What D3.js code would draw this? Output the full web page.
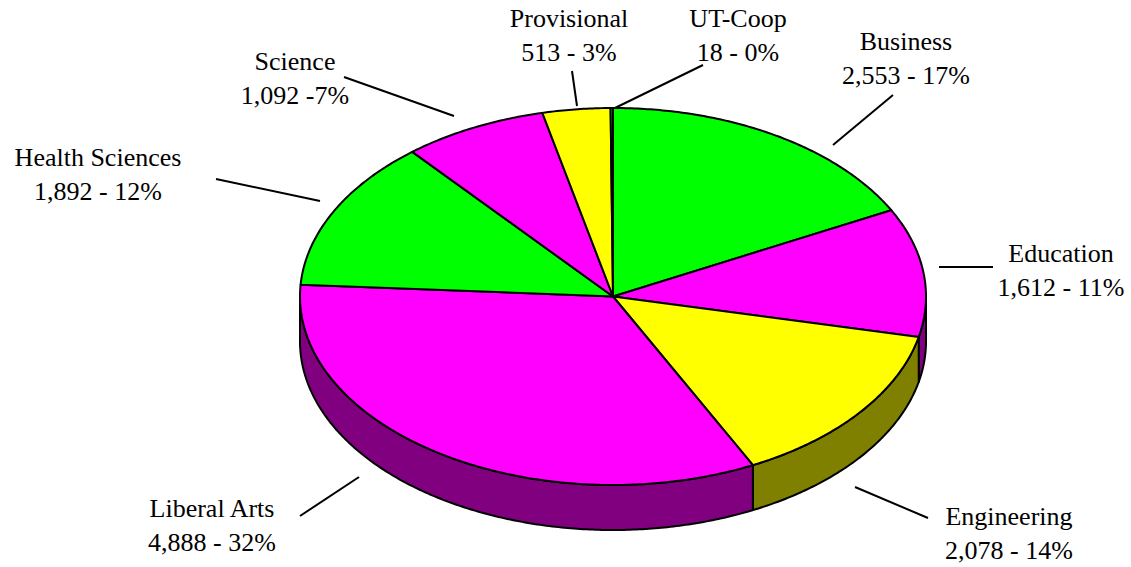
<!DOCTYPE html>
<html lang="en">
<head>
<meta charset="UTF-8">
<title>Enrollment by College</title>
<style>
  html, body { margin: 0; padding: 0; background: #fff; }
</style>
</head>
<body>
<svg id="chart" width="1131" height="567"></svg>
<script src="https://cdn.jsdelivr.net/npm/d3@7"></script>
<script>
// data, clockwise from 12 o'clock
var categories = ["Business", "Education", "Engineering", "Liberal Arts", "Health Sciences", "Science", "Provisional", "UT-Coop"];
var values = [2553, 1612, 2078, 4888, 1892, 1092, 513, 18];
var valueLabels = ["2,553 - 17%", "1,612 - 11%", "2,078 - 14%", "4,888 - 32%", "1,892 - 12%", "1,092 -7%", "513 - 3%", "18 - 0%"];

var topColors = ["#00ff00", "#ff00ff", "#ffff00", "#ff00ff", "#00ff00", "#ff00ff", "#ffff00", "#00ff00"];
var sideColors = ["#008000", "#800080", "#808000", "#800080", "#008000", "#800080", "#808000", "#008000"];

// label placement: text centre, first baseline, leader line from -> to
var labelLayout = [
    { x: 906, y: 50, line: [[893, 95], [833, 145]] },
    { x: 1061, y: 262, line: [[939, 267], [993, 267]] },
    { x: 1009, y: 525, line: [[855, 487], [928, 518]] },
    { x: 212, y: 517, line: [[359, 477], [300, 516]] },
    { x: 98, y: 166, line: [[216, 179], [320, 201]] },
    { x: 295, y: 70, line: [[344, 77], [454, 116]] },
    { x: 569, y: 27, line: [[572, 71], [577, 106]] },
    { x: 738, y: 27, line: [[703, 65], [615, 108]] }
];

var svg = d3.select("#chart");
var cx = 613, cy = 296.5, rx = 313, ry = 188.5, depth = 45;

var pie = d3.pie().sort(null).value(function(d) { return d; });
var arcs = pie(values);

// ellipse point for an angle measured clockwise from north
function pt(a, dy) {
    return [cx + rx * Math.sin(a), cy - ry * Math.cos(a) + (dy || 0)];
}
function arcPoints(a0, a1, dy) {
    var n = Math.max(2, Math.ceil((a1 - a0) / 0.01));
    return d3.range(n + 1).map(function(i) { return pt(a0 + (a1 - a0) * i / n, dy); });
}
var line = d3.line();

// side walls (only the front half is visible)
var g = svg.append("g");
arcs.forEach(function(a, i) {
    var s = Math.max(a.startAngle, Math.PI / 2), e = Math.min(a.endAngle, 3 * Math.PI / 2);
    if (e <= s) return;
    var pts = arcPoints(s, e, 0).concat(arcPoints(s, e, depth).reverse());
    g.append("path")
        .attr("d", line(pts) + "Z")
        .attr("fill", sideColors[i])
        .attr("stroke", "#000")
        .attr("stroke-width", 2)
        .attr("stroke-linejoin", "round");
});

// top faces
arcs.forEach(function(a, i) {
    var pts = [[cx, cy]].concat(arcPoints(a.startAngle, a.endAngle, 0));
    g.append("path")
        .attr("d", line(pts) + "Z")
        .attr("fill", topColors[i])
        .attr("stroke", "#000")
        .attr("stroke-width", 2)
        .attr("stroke-linejoin", "round");
});

// labels and leader lines
var labels = svg.append("g")
    .attr("font-family", "'Liberation Serif', 'DejaVu Serif', Times, serif")
    .attr("font-size", 26);
categories.forEach(function(c, i) {
    var L = labelLayout[i];
    labels.append("line")
        .attr("x1", L.line[0][0]).attr("y1", L.line[0][1])
        .attr("x2", L.line[1][0]).attr("y2", L.line[1][1])
        .attr("stroke", "#000")
        .attr("stroke-width", 2);
    var t = labels.append("text")
        .attr("text-anchor", "middle")
        .style("font-family", "'Liberation Serif', 'DejaVu Serif', Times, serif")
        .attr("fill", "#000");
    t.append("tspan").attr("x", L.x).attr("y", L.y).text(c);
    t.append("tspan").attr("x", L.x).attr("y", L.y + 34).text(valueLabels[i]);
});
</script>
</body>
</html>
